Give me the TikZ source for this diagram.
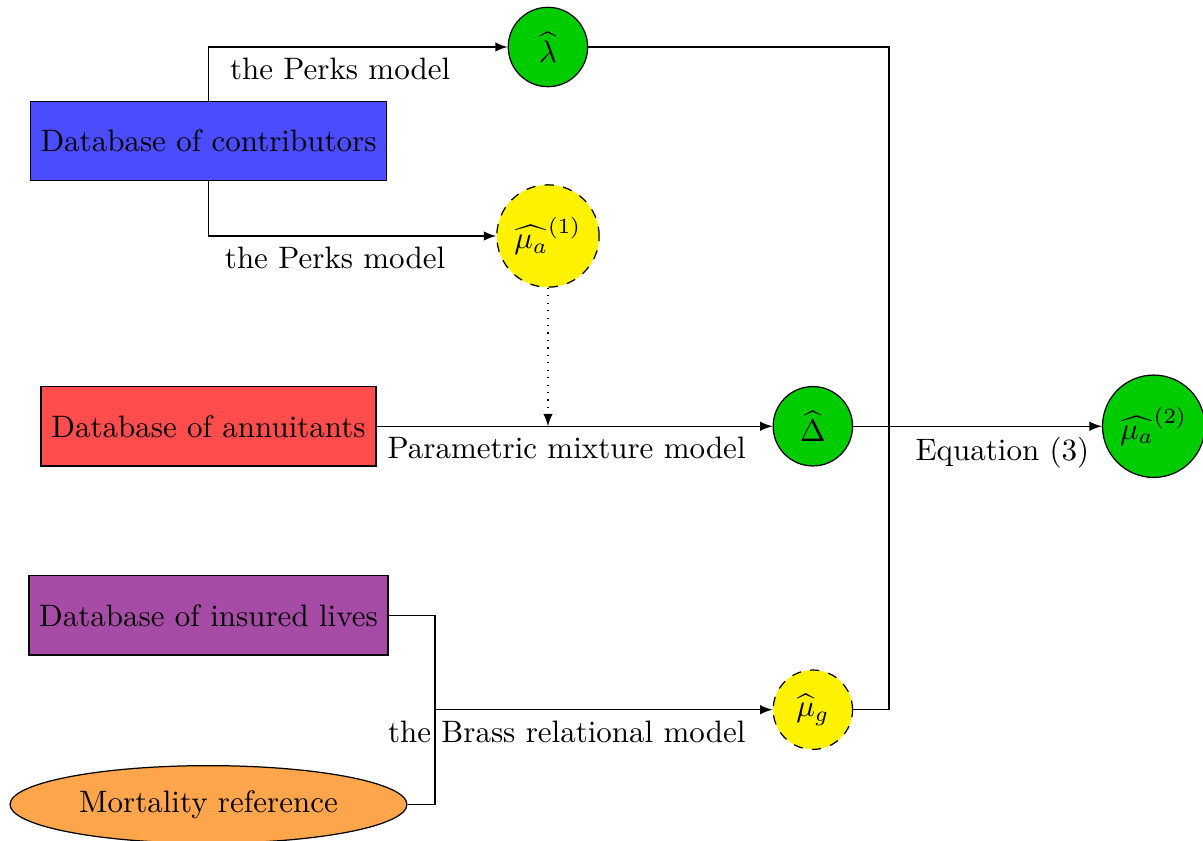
\documentclass[tikz,border=0pt]{standalone}
\usepackage{amsmath}
\usetikzlibrary{shapes,arrows,positioning}

\begin{document}
\begin{tikzpicture}[
    box/.style={rectangle, draw, minimum height=0.9cm, align=center},
    est/.style={circle, draw, minimum size=0.9cm, inner sep=3pt, fill=green!80!black},
    tmp/.style={circle, draw, dashed, minimum size=0.9cm, inner sep=3pt, fill=yellow}
    ]
    \useasboundingbox (0,0) rectangle (13.64,-9.535);

    	%-----Data-----
        % Contributors Database
        \node [box, fill=blue!70] at (2.364,-1.599) (contrib) {Database of contributors};

        % Annuitants Database
        \node [box, fill=red!70, below=2.32cm of contrib] (annuit) {Database of annuitants};

        % Insured Lives Database
        \node [box, fill=violet!70, below=1.23cm of annuit] (insured) {Database of insured lives};

        % Mortality Reference
        \node [ellipse, draw, fill=orange!70, minimum width=4.5cm, minimum height=0.88cm, below=1.24cm of insured] (mortref) {Mortality reference};

    	%-----Estimates-----
        % Lambda
        \node [est] at (6.213,-0.533) (lambda) {$\widehat{\lambda}$};

        % First estimate
        \node [tmp] at (6.213,-2.676) (mua1) {$\widehat{\mu_a}^{(1)}$};

        % Delta
        \node [est, right=4.49cm of annuit] (delta) {$\widehat{\Delta}$};

        % General estimate
        \node [tmp, below=2.3cm of delta] (mug) {$\widehat{\mu}_g$};

        % Final estimate
        \node [est, right=2.82cm of delta] (mua2) {$\widehat{\mu_a}^{(2)}$};

        \coordinate (join) at (4.932,0 |- mug);
        \coordinate (merge) at (10.079,0 |- delta);

    	%-----Links-----
        \draw [-latex] (contrib.north) |- (lambda) node [pos=0.72, below] {the Perks model};
        \draw [-latex] (contrib.south) |- (mua1) node [pos=0.72, below] {the Perks model};
        \draw [-latex] (annuit) -- (delta) node [midway, below, xshift=-0.09cm] {Parametric mixture model};
        \draw [-latex, dotted] (mua1) -- (mua1 |- annuit);
        \draw (insured.east) -| (join);
        \draw (mortref.east) -| (join);
        \draw [-latex] (join) -- (mug) node [midway, below, xshift=-0.42cm] {the Brass relational model};
        \draw (lambda) -| (merge);
        \draw (mug) -| (merge);
        \draw [-latex] (delta) -- (mua2) node [pos=0.6, below] {Equation (3)};

    \end{tikzpicture}
\end{document}
